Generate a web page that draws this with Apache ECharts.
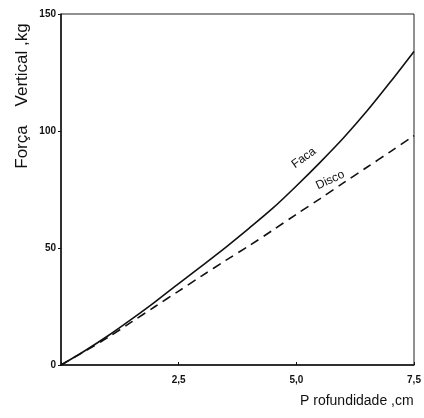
<!DOCTYPE html>
<html>
<head>
<meta charset="utf-8">
<script src="https://cdn.jsdelivr.net/npm/echarts@6/dist/echarts.min.js"></script>
<style>
  html, body { margin: 0; padding: 0; background: #fff; }
  #chart { width: 424px; height: 418px; }
</style>
</head>
<body>
<div id="chart"></div>
<script>
// profundidade (cm)
const depth = [0, 0.5, 1, 1.5, 2, 2.5, 3, 3.5, 4, 4.5, 5, 5.5, 6, 6.5, 7, 7.5];
// força vertical (kg)
const faca = [0, 6, 12.5, 19.6, 27, 34.8, 42.5, 50.3, 58.5, 67, 76.5, 86.5, 97, 108.5, 121, 134];
const disco = [0, 5.8, 11.8, 18.4, 25, 31.6, 38.2, 44.7, 51, 57.6, 64.4, 71, 77.8, 84.5, 91.2, 98];
const xTicks = ['', '2,5', '5,0', '7,5'];
const yTicks = ['0', '50', '100', '150'];

let chart = echarts.init(document.getElementById('chart'));

function pairs(ys) {
    return depth.map(function (x, i) { return [x, ys[i]]; });
}

let txt = '#111';
let option = {
    animation: false,
    backgroundColor: '#fff',
    grid: {left: 61, right: 10, top: 14, bottom: 53, show: true, borderColor: '#222', borderWidth: 1},
    xAxis: {
        type: 'value', min: 0, max: 7.5, interval: 2.5,
        axisLine: {show: true, lineStyle: {color: '#111', width: 1.5}},
        axisTick: {show: true, inside: true, length: 3, lineStyle: {color: '#111'}},
        splitLine: {show: false},
        axisLabel: {
            color: txt, fontSize: 10, fontWeight: 'bold', fontFamily: 'Liberation Sans', margin: 10,
            formatter: function (v) { return xTicks[Math.round(v / 2.5)]; }
        }
    },
    yAxis: {
        type: 'value', min: 0, max: 150, interval: 50,
        axisLine: {show: true, lineStyle: {color: '#111', width: 1.5}},
        axisTick: {show: true, length: 3, lineStyle: {color: '#111'}},
        splitLine: {show: false},
        axisLabel: {
            color: txt, fontSize: 10, fontWeight: 'bold', fontFamily: 'Liberation Sans', margin: 5,
            formatter: function (v) { return yTicks[Math.round(v / 50)]; }
        }
    },
    graphic: [
        {type: 'text', left: 300, top: 394, style: {text: 'P rofundidade ,cm', fill: txt, font: '14px "Liberation Sans"'}},
        {type: 'text', x: 22, y: 96, rotation: Math.PI / 2,
            style: {text: 'Força    Vertical ,kg', fill: txt, font: '17px "Liberation Sans"', align: 'center', verticalAlign: 'middle'}}
    ],
    series: [
        {
            name: 'Faca', type: 'line', smooth: 0.3, symbol: 'none', data: pairs(faca),
            lineStyle: {color: '#111', width: 1.6},
            markPoint: {
                symbol: 'circle', symbolSize: 0,
                data: [{coord: [5.16, 88.5], value: 'Faca'}],
                label: {show: true, position: 'inside', formatter: 'Faca', rotate: 36, color: txt, fontSize: 12, fontFamily: 'Liberation Sans'}
            }
        },
        {
            name: 'Disco', type: 'line', smooth: 0.3, symbol: 'none', data: pairs(disco),
            lineStyle: {color: '#111', width: 1.6, type: [9, 6]},
            markPoint: {
                symbol: 'circle', symbolSize: 0,
                data: [{coord: [5.72, 79], value: 'Disco'}],
                label: {show: true, position: 'inside', formatter: 'Disco', rotate: 25, color: txt, fontSize: 12, fontFamily: 'Liberation Sans'}
            }
        }
    ]
};
chart.setOption(option);
</script>
</body>
</html>
